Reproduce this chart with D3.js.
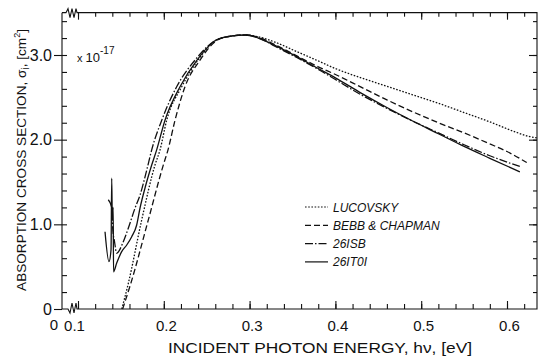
<!DOCTYPE html>
<html>
<head>
<meta charset="utf-8">
<script src="https://cdn.jsdelivr.net/npm/d3@7"></script>
<style>
  body { margin: 0; background: #fff; }
  svg { font-family: "Liberation Sans", Arial, sans-serif; }
</style>
</head>
<body>
<svg id="mySvg" width="539" height="356"></svg>
<script>
// curves: photon energy (eV) vs cross section (x1e-17 cm^2)
const lucE = [0.151, 0.1586, 0.1742, 0.1897, 0.1956, 0.2034, 0.2209, 0.2399, 0.262, 0.28, 0.295, 0.31, 0.33, 0.355, 0.38, 0.40, 0.43, 0.46, 0.49, 0.52, 0.55, 0.58, 0.61, 0.625, 0.636];
const lucS = [0, 0.30, 1.05, 1.70, 1.88, 2.23, 2.625, 2.94, 3.18, 3.225, 3.236, 3.215, 3.15, 3.04, 2.93, 2.84, 2.73, 2.63, 2.53, 2.43, 2.32, 2.21, 2.09, 2.04, 2.02];

const bebbE = [0.152, 0.1618, 0.1819, 0.1994, 0.2049, 0.2131, 0.2247, 0.2422, 0.2632, 0.28, 0.295, 0.31, 0.33, 0.355, 0.38, 0.40, 0.43, 0.46, 0.49, 0.52, 0.55, 0.58, 0.60, 0.623];
const bebbS = [0, 0.31, 1.05, 1.70, 1.88, 2.23, 2.625, 2.94, 3.18, 3.225, 3.236, 3.21, 3.12, 2.99, 2.86, 2.77, 2.62, 2.47, 2.33, 2.20, 2.08, 1.95, 1.86, 1.73];

const isbE = [0.1353, 0.1393, 0.1405, 0.1425, 0.1451, 0.1528, 0.1586, 0.1664, 0.1723, 0.1801, 0.1859, 0.1976, 0.2150, 0.2364, 0.2617, 0.28, 0.295, 0.31, 0.33, 0.355, 0.38, 0.40, 0.43, 0.46, 0.49, 0.52, 0.55, 0.58, 0.616];
const isbS = [1.29, 1.20, 0.95, 0.80, 0.66, 0.795, 0.953, 1.19, 1.346, 1.64, 1.88, 2.23, 2.625, 2.94, 3.18, 3.225, 3.236, 3.205, 3.10, 2.97, 2.83, 2.71, 2.53, 2.37, 2.22, 2.08, 1.94, 1.81, 1.68];

const itoE = [0.1315, 0.1361, 0.1385, 0.1393, 0.1400, 0.1410, 0.1414, 0.1451, 0.1509, 0.1568, 0.1626, 0.1684, 0.1723, 0.1781, 0.1859, 0.1917, 0.2014, 0.2189, 0.2387, 0.2617, 0.28, 0.295, 0.31, 0.33, 0.355, 0.38, 0.40, 0.43, 0.46, 0.49, 0.52, 0.55, 0.58, 0.615];
const itoS = [0.913, 0.559, 0.70, 1.544, 1.05, 1.20, 0.44, 0.543, 0.677, 0.756, 0.854, 0.992, 1.193, 1.429, 1.70, 1.88, 2.23, 2.625, 2.94, 3.18, 3.225, 3.236, 3.20, 3.11, 2.98, 2.84, 2.73, 2.55, 2.38, 2.22, 2.07, 1.92, 1.78, 1.62];

const seriesNames = ["LUCOVSKY", "BEBB & CHAPMAN", "26ISB", "26IT0I"];
const xMajor = [0.1, 0.2, 0.3, 0.4, 0.5, 0.6];
const yMajor = [0, 1, 2, 3];

const series = [
  {name: seriesNames[0], E: lucE, S: lucS, dash: "1.6,1.6"},
  {name: seriesNames[1], E: bebbE, S: bebbS, dash: "6,3"},
  {name: seriesNames[2], E: isbE, S: isbS, dash: "8,2,1.5,2"},
  {name: seriesNames[3], E: itoE, S: itoS, dash: null}
];

const svg = d3.select("#mySvg");

// scales (x axis is broken between 0 and 0.1)
const x = d3.scaleLinear().domain([0.1, 0.6]).range([78, 507]);
const y = d3.scaleLinear().domain([0, 3]).range([309, 55]);
const fLeft = 62, fRight = 537, fTop = y(3.5), fBottom = y(0);

const xMinor = d3.range(0.1, 0.621, 0.02).map(v => +v.toFixed(2));
const yMinor = d3.range(0, 3.41, 0.2).map(v => +v.toFixed(1));

// frame with axis breaks
const frame = svg.append("g").attr("fill", "none").attr("stroke", "#111").attr("stroke-width", 1.1);
frame.append("path").attr("d",
  `M${fLeft},${fTop} L${fLeft},${fBottom} L68,${fBottom} L70,${fBottom + 4} L72,${fBottom - 6} L74,${fBottom + 4} L76,${fBottom - 6} L77,${fBottom} L${fRight},${fBottom} L${fRight},${fTop} L77,${fTop} L76,${fTop - 4} L74,${fTop + 5} L72,${fTop - 4} L70,${fTop + 5} L68,${fTop - 4} L66,${fTop} L${fLeft},${fTop}`);

// bottom axis ticks (inward)
svg.append("g").attr("transform", `translate(0,${fBottom})`)
  .call(d3.axisBottom(x).tickValues(xMinor).tickSize(-5).tickFormat(""))
  .call(g => g.select(".domain").remove());
svg.append("g").attr("transform", `translate(0,${fBottom})`)
  .call(d3.axisBottom(x).tickValues(xMajor).tickSize(-8).tickPadding(11).tickFormat(d3.format(".1f")))
  .call(g => g.select(".domain").remove())
  .call(g => g.selectAll("text").attr("font-size", 15).attr("fill", "#111")
    .attr("dx", d => d === 0.1 ? -4 : 2));

// top axis ticks (inward)
svg.append("g").attr("transform", `translate(0,${fTop})`)
  .call(d3.axisTop(x).tickValues(xMinor).tickSize(-4).tickFormat(""))
  .call(g => g.select(".domain").remove());
svg.append("g").attr("transform", `translate(0,${fTop})`)
  .call(d3.axisTop(x).tickValues(xMajor).tickSize(-7).tickFormat(""))
  .call(g => g.select(".domain").remove());

// left axis: minor inward, major outward
svg.append("g").attr("transform", `translate(${fLeft},0)`)
  .call(d3.axisLeft(y).tickValues(yMinor.filter(v => v > 0)).tickSize(-5).tickFormat(""))
  .call(g => g.select(".domain").remove());
svg.append("g").attr("transform", `translate(${fLeft},0)`)
  .call(d3.axisLeft(y).tickValues(yMajor).tickSize(8).tickPadding(2).tickFormat(d => d === 0 ? "0" : d3.format(".1f")(d)))
  .call(g => g.select(".domain").remove())
  .call(g => g.selectAll("text").attr("font-size", 16).attr("fill", "#111"));

// right axis ticks (inward)
svg.append("g").attr("transform", `translate(${fRight},0)`)
  .call(d3.axisRight(y).tickValues(yMinor.filter(v => v > 0)).tickSize(-4).tickFormat(""))
  .call(g => g.select(".domain").remove());
svg.append("g").attr("transform", `translate(${fRight},0)`)
  .call(d3.axisRight(y).tickValues(yMajor.filter(v => v > 0)).tickSize(-8).tickFormat(""))
  .call(g => g.select(".domain").remove());

svg.selectAll(".tick line").attr("stroke", "#111").attr("stroke-width", 1.1);

// "0" at the broken x origin
svg.append("text").attr("x", 54).attr("y", 330).attr("text-anchor", "middle")
  .attr("font-size", 15).attr("fill", "#111").text("0");

// curves
const line = d3.line().curve(d3.curveMonotoneX);
series.forEach(s => {
  const pts = s.E.map((e, i) => [x(e), y(s.S[i])]);
  svg.append("path")
    .attr("d", line(pts))
    .attr("fill", "none")
    .attr("stroke", "#111")
    .attr("stroke-width", 1.3)
    .attr("stroke-dasharray", s.dash);
});

// multiplier
const mult = svg.append("text").attr("x", 77).attr("y", 62).attr("fill", "#111").attr("font-size", 13);
mult.append("tspan").attr("font-size", 11).text("x ");
mult.append("tspan").text("10");
mult.append("tspan").attr("font-size", 10).attr("dy", -8).text("-17");

// legend
const legend = svg.append("g");
series.forEach((s, i) => {
  const ly = 207 + i * 18.3;
  legend.append("line").attr("x1", 305).attr("x2", 328).attr("y1", ly).attr("y2", ly)
    .attr("stroke", "#111").attr("stroke-width", 1.2).attr("stroke-dasharray", s.dash);
  legend.append("text").attr("x", 333).attr("y", ly + 4.5)
    .attr("font-size", 12).attr("font-style", "italic").attr("fill", "#111")
    .text(s.name);
});

// axis titles
svg.append("text").attr("x", 320).attr("y", 353).attr("text-anchor", "middle")
  .attr("font-size", 15).attr("fill", "#111")
  .attr("textLength", 304).attr("lengthAdjust", "spacingAndGlyphs")
  .text("INCIDENT PHOTON ENERGY, h\u03BD, [eV]");

const yt = svg.append("text").attr("transform", "translate(26,160) rotate(-90)")
  .attr("text-anchor", "middle").attr("font-size", 13.6).attr("fill", "#111");
yt.append("tspan").text("ABSORPTION CROSS SECTION, \u03C3");
yt.append("tspan").attr("font-size", 10).attr("dy", 3).text("i");
yt.append("tspan").attr("dy", -3).text(", [cm");
yt.append("tspan").attr("font-size", 9).attr("dy", -6).text("2");
yt.append("tspan").attr("dy", 6).text("]");
</script>
</body>
</html>
